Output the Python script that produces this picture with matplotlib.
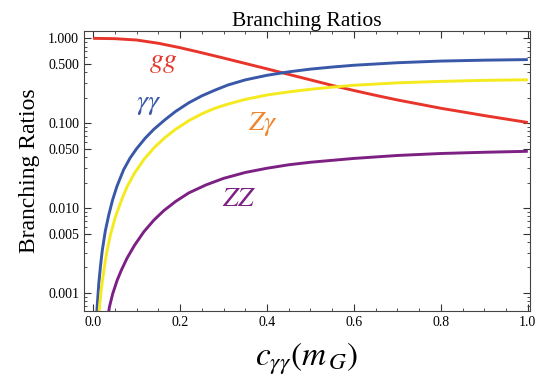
import numpy as np
import matplotlib.pyplot as plt
from matplotlib.ticker import FixedLocator, FixedFormatter, LogLocator, NullFormatter, MultipleLocator

plt.rcParams['font.family'] = ['Liberation Serif', 'DejaVu Serif']
plt.rcParams['mathtext.fontset'] = 'stix'

# values (c_gamma_gamma vs branching ratio)
c_gg = [0.0, 0.05, 0.1, 0.15, 0.2, 0.25, 0.3, 0.35, 0.4, 0.45, 0.5, 0.55,
        0.6, 0.65, 0.7, 0.75, 0.8, 0.85, 0.9, 0.95, 1.0]
br_gg = [1.0, 0.991, 0.955, 0.875, 0.776, 0.676, 0.586, 0.506, 0.437, 0.376, 0.324,
         0.279, 0.243, 0.213, 0.188, 0.168, 0.150, 0.136, 0.123, 0.112, 0.102]

c_aa = [0.008, 0.01, 0.013, 0.017, 0.021, 0.028, 0.036, 0.045, 0.055, 0.07, 0.085,
        0.1, 0.12, 0.14, 0.165, 0.19, 0.22, 0.25, 0.28, 0.31, 0.35, 0.4, 0.45, 0.5,
        0.55, 0.6, 0.7, 0.8, 0.9, 1.0]
br_aa = [0.00055, 0.00078, 0.00129, 0.00209, 0.00316, 0.00537, 0.00832, 0.0126,
         0.0182, 0.0282, 0.0389, 0.0501, 0.0668, 0.0851, 0.1096, 0.138, 0.174, 0.21,
         0.245, 0.282, 0.324, 0.367, 0.403, 0.434, 0.459, 0.482, 0.516, 0.540, 0.553,
         0.562]

c_za = [0.013, 0.0147, 0.018, 0.0207, 0.026, 0.032, 0.04, 0.0515, 0.065, 0.078,
        0.095, 0.1165, 0.14, 0.165, 0.19, 0.22, 0.25, 0.28, 0.31, 0.35, 0.4, 0.45,
        0.5, 0.55, 0.6, 0.7, 0.8, 0.9, 1.0]
br_za = [0.000537, 0.000692, 0.00102, 0.00132, 0.00204, 0.00316, 0.0049, 0.00794,
         0.0123, 0.0178, 0.0257, 0.0372, 0.0513, 0.0676, 0.0851, 0.107, 0.129, 0.150,
         0.168, 0.191, 0.215, 0.234, 0.251, 0.266, 0.280, 0.299, 0.311, 0.320, 0.325]

c_zz = [0.035, 0.0377, 0.045, 0.055, 0.065, 0.078, 0.095, 0.1165, 0.14, 0.1625,
        0.19, 0.22, 0.26, 0.3, 0.35, 0.4, 0.45, 0.5, 0.6, 0.7, 0.8, 0.9, 1.0]
br_zz = [0.000562, 0.000692, 0.000977, 0.0014, 0.00186, 0.00257, 0.00363, 0.00525,
         0.00724, 0.00933, 0.0120, 0.0151, 0.0188, 0.0224, 0.0263, 0.0295, 0.0324,
         0.0347, 0.0385, 0.0417, 0.0440, 0.0455, 0.0467]

ytick_vals = [0.001, 0.005, 0.01, 0.05, 0.1, 0.5, 1.0]
ytick_labels = ['0.001', '0.005', '0.010', '0.050', '0.100', '0.500', '1.000']
xtick_vals = [0.0, 0.2, 0.4, 0.6, 0.8, 1.0]

red = '#e8352b'
blue = '#3a58a8'
yellow = '#f4ea1e'
purple = '#7c2183'
orange = '#f0852d'

fig = plt.figure(figsize=(5.36, 3.87), dpi=100)
ax = fig.add_axes([0.1567, 0.1964, 0.8321, 0.7227])

lw = 2.1
for xs, ys, col in [(c_gg, br_gg, red), (c_aa, br_aa, blue),
                    (c_za, br_za, yellow), (c_zz, br_zz, purple)]:
    ax.plot(xs, ys, color=col, lw=lw, solid_capstyle='butt', solid_joinstyle='round')

ax.set_yscale('log')
ax.set_xlim(-0.021, 1.005)
ax.set_ylim(0.000614, 1.21)

ax.yaxis.set_major_locator(FixedLocator(ytick_vals))
ax.yaxis.set_major_formatter(FixedFormatter(ytick_labels))
ax.yaxis.set_minor_locator(LogLocator(base=10, subs=np.arange(2, 10)))
ax.yaxis.set_minor_formatter(NullFormatter())
ax.xaxis.set_major_locator(FixedLocator(xtick_vals))
ax.set_xticklabels(['0.0', '0.2', '0.4', '0.6', '0.8', '1.0'])
ax.xaxis.set_minor_locator(MultipleLocator(0.05))

ax.tick_params(which='both', direction='in', top=True, right=True,
               labelsize=10, colors='#333333', labelcolor='black')
ax.tick_params(which='major', length=5, width=0.8)
ax.tick_params(which='minor', length=2.5, width=0.6)
for s in ax.spines.values():
    s.set_linewidth(0.8)
    s.set_color('#444444')

ax.text(0.1625, 0.526, r'$gg$', color=red, fontsize=20, ha='center', va='center')
ax.text(0.128, 0.168, r'$\gamma\gamma$', color=blue, fontsize=20, ha='center', va='center')
ax.text(0.39, 0.098, r'$Z\gamma$', color=orange, fontsize=20, ha='center', va='center')
ax.text(0.337, 0.0125, r'$ZZ$', color=purple, fontsize=20, ha='center', va='center')

ax.set_title('Branching Ratios', fontsize=15.5, pad=3)
ax.set_ylabel('Branching Ratios', fontsize=17, labelpad=6)
ax.set_xlabel(r'$c_{\gamma\gamma}(m_{\,G})$', fontsize=24, labelpad=8)

fig.savefig('out.png', dpi=100)
